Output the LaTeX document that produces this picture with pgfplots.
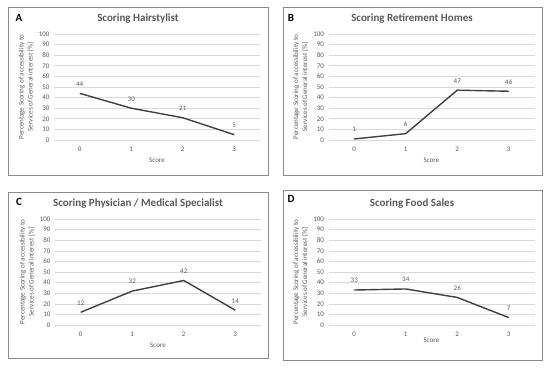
\documentclass[border=0pt]{standalone}
\usepackage{pgfplots}
\pgfplotsset{compat=1.18}
\usepackage{fontspec}
\setmainfont{Carlito}
\definecolor{txt}{HTML}{595959}
\definecolor{gridc}{HTML}{D9D9D9}
\definecolor{linec}{HTML}{404040}
\definecolor{boxc}{HTML}{8C8C8C}
\pgfplotsset{panel/.style={
  scale only axis, width=206pt, height=106pt, anchor=south west,
  xmin=-0.5, xmax=3.5, ymin=0, ymax=100,
  xtick={0,1,2,3}, ytick={0,10,...,100},
  axis line style={draw=none}, major tick style={draw=none},
  ymajorgrids, grid style={draw=gridc, line width=0.6pt},
  /pgf/number format/assume math mode=true,
  ticklabel style={font=\fontsize{7}{8}\selectfont, text=txt},
  xticklabel style={yshift=-3pt},
  yticklabel style={xshift=-1pt},
  xlabel={Score},
  xlabel style={font=\fontsize{7}{8}\selectfont, text=txt},
  ylabel={Percentage Scoring of accessibility to\\Services of General interest [\%]},
  ylabel style={font=\fontsize{7}{9}\selectfont, text=txt, align=center, at={(axis description cs:0,0.5)}, anchor=south, yshift=17pt},
  nodes near coords,
  every node near coord/.style={font=\fontsize{7}{8}\selectfont, text=txt, yshift=3pt},
  clip=false,
}}
\begin{document}
\begin{tikzpicture}
\path[use as bounding box] (0,0) rectangle (550pt,-369pt);
\draw[boxc, line width=0.6pt] (8pt,-7pt) rectangle (268pt,-175pt);
\draw[boxc, line width=0.6pt] (283pt,-7pt) rectangle (542pt,-175pt);
\draw[boxc, line width=0.6pt] (8pt,-192pt) rectangle (268pt,-358pt);
\draw[boxc, line width=0.6pt] (283pt,-190pt) rectangle (542pt,-360pt);
\node[font=\fontsize{11}{12}\selectfont\bfseries] at (19pt,-18pt) {A};
\node[font=\fontsize{11}{12}\selectfont\bfseries] at (291pt,-18pt) {B};
\node[font=\fontsize{11}{12}\selectfont\bfseries] at (19pt,-202pt) {C};
\node[font=\fontsize{11}{12}\selectfont\bfseries] at (291pt,-199pt) {D};
\node[font=\fontsize{11}{12}\selectfont\bfseries, text=txt] at (138pt,-19pt) {Scoring Hairstylist};
\node[font=\fontsize{11}{12}\selectfont\bfseries, text=txt] at (412pt,-19pt) {Scoring Retirement Homes};
\node[font=\fontsize{11}{12}\selectfont\bfseries, text=txt] at (138pt,-204pt) {Scoring Physician / Medical Specialist};
\node[font=\fontsize{11}{12}\selectfont\bfseries, text=txt] at (412pt,-204pt) {Scoring Food Sales};
\begin{axis}[panel, at={(54pt,-140pt)}]
\addplot[linec, line width=1.4pt, mark=none] coordinates {(0,44) (1,30) (2,21) (3,5)};
\end{axis}
\begin{axis}[panel, at={(328.5pt,-140pt)}]
\addplot[linec, line width=1.4pt, mark=none] coordinates {(0,1) (1,6) (2,47) (3,46)};
\end{axis}
\begin{axis}[panel, at={(55pt,-325pt)}]
\addplot[linec, line width=1.4pt, mark=none] coordinates {(0,12) (1,32) (2,42) (3,14)};
\end{axis}
\begin{axis}[panel, at={(328.5pt,-325pt)}, xlabel style={yshift=5pt}]
\addplot[linec, line width=1.4pt, mark=none] coordinates {(0,33) (1,34) (2,26) (3,7)};
\end{axis}
\end{tikzpicture}
\end{document}
